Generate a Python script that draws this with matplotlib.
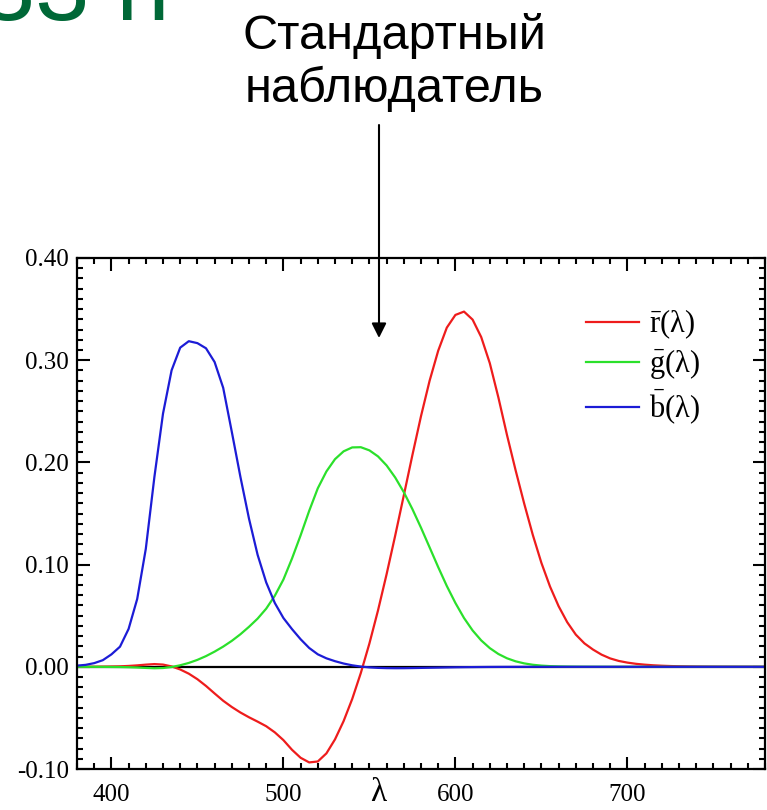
import numpy as np
import matplotlib
matplotlib.use("Agg")
import matplotlib.pyplot as plt
from matplotlib.ticker import MultipleLocator

# colour matching functions (5 nm steps)
wavelength = list(range(380, 785, 5))
r_bar = [0.00003, 0.00005, 0.00010, 0.00017, 0.00030, 0.00047, 0.00084, 0.00139,
         0.00211, 0.00266, 0.00218, 0.00036, -0.00261, -0.00673, -0.01213, -0.01874,
         -0.02608, -0.03324, -0.03933, -0.04471, -0.04939, -0.05364, -0.05814, -0.06414,
         -0.07173, -0.08120, -0.08901, -0.09356, -0.09264, -0.08473, -0.07101, -0.05316,
         -0.03152, -0.00613, 0.02279, 0.05514, 0.09060, 0.12840, 0.16768, 0.20715,
         0.24526, 0.27989, 0.30928, 0.33184, 0.34429, 0.34756, 0.33971, 0.32265,
         0.29708, 0.26348, 0.22677, 0.19233, 0.15968, 0.12905, 0.10167, 0.07857,
         0.05932, 0.04366, 0.03149, 0.02294, 0.01687, 0.01187, 0.00819, 0.00572,
         0.00410, 0.00291, 0.00210, 0.00148, 0.00105, 0.00074, 0.00052, 0.00036,
         0.00025, 0.00017, 0.00012, 0.00008, 0.00006, 0.00004, 0.00003, 0.00001, 0.0]
g_bar = [-0.00001, -0.00002, -0.00004, -0.00007, -0.00014, -0.00022, -0.00041, -0.00070,
         -0.00110, -0.00143, -0.00119, -0.00021, 0.00149, 0.00379, 0.00678, 0.01046,
         0.01485, 0.01977, 0.02538, 0.03183, 0.03914, 0.04713, 0.05689, 0.06948,
         0.08536, 0.10593, 0.12860, 0.15262, 0.17468, 0.19113, 0.20317, 0.21083,
         0.21466, 0.21487, 0.21178, 0.20588, 0.19702, 0.18522, 0.17087, 0.15429,
         0.13610, 0.11686, 0.09754, 0.07909, 0.06246, 0.04776, 0.03557, 0.02583,
         0.01828, 0.01253, 0.00833, 0.00537, 0.00334, 0.00199, 0.00116, 0.00066,
         0.00037, 0.00021, 0.00011, 0.00006, 0.00003, 0.00001] + [0.0] * 19
b_bar = [0.00117, 0.00189, 0.00359, 0.00647, 0.01214, 0.01969, 0.03707, 0.06637,
         0.11541, 0.18575, 0.24769, 0.29012, 0.31228, 0.31860, 0.31670, 0.31166,
         0.29821, 0.27295, 0.22991, 0.18592, 0.14494, 0.10961, 0.08257, 0.06246,
         0.04776, 0.03688, 0.02698, 0.01842, 0.01221, 0.00830, 0.00549, 0.00320,
         0.00146, 0.00023, -0.00058, -0.00105, -0.00130, -0.00138, -0.00135, -0.00123,
         -0.00108, -0.00093, -0.00079, -0.00063, -0.00049, -0.00038, -0.00030, -0.00022,
         -0.00015, -0.00011, -0.00008, -0.00005, -0.00003, -0.00002, -0.00001, -0.00001] + [0.0] * 25

labels = [r"$\bar{\mathrm{r}}$(λ)", r"$\bar{\mathrm{g}}$(λ)", r"$\bar{\mathrm{b}}$(λ)"]
colors = ["#ee1c1c", "#2be02b", "#1c1cd6"]

plt.rcParams["font.family"] = ["Liberation Serif", "DejaVu Serif"]
plt.rcParams["mathtext.fontset"] = "custom"
plt.rcParams["mathtext.rm"] = "Liberation Serif"
plt.rcParams["mathtext.it"] = "Liberation Serif:italic"
plt.rcParams["axes.unicode_minus"] = False

W, H = 767, 810
fig = plt.figure(figsize=(W / 100, H / 100), dpi=100)
ax = fig.add_axes([77 / W, 1 - 769 / H, (765 - 77) / W, (769 - 258) / H])

ax.axhline(0, color="black", lw=1.6, zorder=1)
for ys, c, lab in zip([r_bar, g_bar, b_bar], colors, labels):
    ax.plot(wavelength, ys, color=c, lw=1.6, label=lab, zorder=2)

ax.set_xlim(380, 780)
ax.set_ylim(-0.10, 0.40)
ax.xaxis.set_major_locator(MultipleLocator(100))
ax.xaxis.set_minor_locator(MultipleLocator(10))
ax.yaxis.set_major_locator(MultipleLocator(0.1))
ax.yaxis.set_minor_locator(MultipleLocator(0.01))
ax.yaxis.set_major_formatter(matplotlib.ticker.FormatStrFormatter("%.2f"))
ax.tick_params(which="both", direction="in", top=True, right=True, width=1.5, labelsize=18)
ax.tick_params(which="major", length=9)
ax.tick_params(which="minor", length=4.5)
ax.tick_params(axis="x", pad=11)
ax.tick_params(axis="y", pad=6)
for s in ax.spines.values():
    s.set_linewidth(1.6)

ax.legend(loc="center left", bbox_to_anchor=((586 - 77) / 688, (769 - 367) / 511),
          frameon=False, fontsize=22, handlelength=1.75, handletextpad=0.3,
          labelspacing=0.2, borderpad=0, borderaxespad=0)

fig.text(378 / W, 1 - 793 / H, "λ", fontsize=24, ha="center", va="center")

# slide texts around the chart
fig.text(394 / W, 1 - 102 / H, "Стандартный\nнаблюдатель", fontsize=35,
         family="Liberation Sans", ha="center", va="baseline", linespacing=1.18,
         multialignment="center")
fig.text(170 / W, 1 - 20 / H, "933 н", fontsize=70, family="Liberation Sans",
         color="#006837", ha="right", va="baseline")
ax.annotate("", xy=(379 / W, 1 - 338 / H), xycoords="figure fraction",
            xytext=(379 / W, 1 - 125 / H), textcoords="figure fraction",
            arrowprops=dict(arrowstyle="-|>", lw=1.5, color="black",
                            mutation_scale=22, shrinkA=0, shrinkB=0),
            annotation_clip=False)

fig.savefig("out.png", dpi=100)
